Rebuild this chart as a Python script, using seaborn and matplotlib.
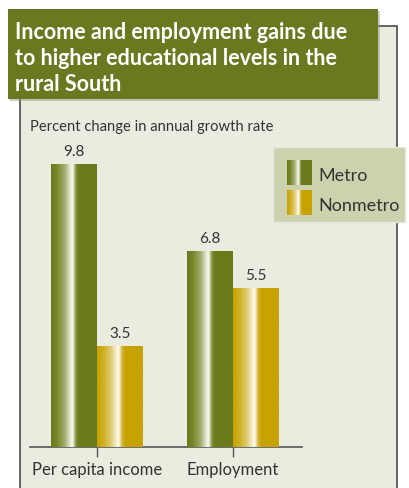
import numpy as np
import pandas as pd
import matplotlib
matplotlib.use("Agg")
import matplotlib.pyplot as plt
import seaborn as sns
from matplotlib.colors import LinearSegmentedColormap
from matplotlib.patches import Rectangle

categories = ["Per capita income", "Employment"]
metro = [9.8, 6.8]
nonmetro = [3.5, 5.5]
series = ["Metro", "Nonmetro"]
value_labels = ["9.8", "3.5", "6.8", "5.5"]
title = "Income and employment gains due\nto higher educational levels in the\nrural South"
ylabel = "Percent change in annual growth rate"

sns.set_theme(style="white")
plt.rcParams['font.family'] = ['Lato', 'DejaVu Sans']

W, H = 409, 489
fig = plt.figure(figsize=(W / 100, H / 100), dpi=100)
fig.patch.set_facecolor("white")

def fx(px):
    return px / W

def fy(py):
    return 1 - py / H

# panel
fig.patches.append(Rectangle((fx(20), fy(492)), fx(377), (492 - 27) / H,
                             transform=fig.transFigure, facecolor="#ECEBDF",
                             edgecolor="#4a4a4a", linewidth=1.2, zorder=-2))
# title shadow + box
fig.patches.append(Rectangle((fx(10), fy(102)), fx(370), 90 / H,
                             transform=fig.transFigure, facecolor="#9a9a8a",
                             edgecolor="none", alpha=0.5, zorder=2))
fig.patches.append(Rectangle((fx(8), fy(100)), fx(370), 90 / H,
                             transform=fig.transFigure, facecolor="#6B7820",
                             edgecolor="none", zorder=2))
fig.text(fx(15), fy(22), title, color="white", fontsize=15.5, fontweight="bold",
         va="top", ha="left", linespacing=1.3, zorder=3)
fig.text(fx(30), fy(127), ylabel, color="#333333", fontsize=10.6, va="center",
         ha="left", zorder=3)

df = pd.DataFrame({
    "Category": categories * 2,
    "Area": [series[0]] * len(categories) + [series[1]] * len(categories),
    "Value": metro + nonmetro,
})

ax = fig.add_axes([fx(30), fy(448), fx(272), (448 - 144.6) / H])
ax.set_zorder(1)
ax.set_facecolor("none")
pal = {"Metro": "#6A7A1A", "Nonmetro": "#C6A300"}
sns.barplot(data=df, x="Category", y="Value", hue="Area", palette=pal,
            width=0.67, ax=ax, legend=False, saturation=1)

cm_metro = LinearSegmentedColormap.from_list("m", [
    (0.0, "#6A7A1A"), (0.12, "#76852a"), (0.3, "#a3ad70"), (0.42, "#e6e8d4"),
    (0.47, "#fbfbf2"), (0.55, "#7c8a30"), (0.62, "#6A7A1A"), (1.0, "#6A7A1A")])
cm_non = LinearSegmentedColormap.from_list("n", [
    (0.0, "#C6A300"), (0.12, "#cdad1c"), (0.3, "#e0cb70"), (0.42, "#f6eed0"),
    (0.47, "#fffdf4"), (0.55, "#d2b434"), (0.62, "#C6A300"), (1.0, "#C6A300")])

grad = np.linspace(0, 1, 256).reshape(1, -1)
bars = [p for p in ax.patches if p.get_height() > 0]
for p in bars:
    x0 = p.get_x()
    w = p.get_width()
    h = p.get_height()
    fc = p.get_facecolor()
    cmap = cm_metro if fc[1] < 0.55 else cm_non
    im = ax.imshow(grad, extent=[x0, x0 + w, 0, h], aspect="auto", cmap=cmap,
                   zorder=3, interpolation="bilinear")
    im.set_clip_path(p)
    p.set_edgecolor("none")

ordered = sorted(bars, key=lambda p: p.get_x())
for p, lab in zip(ordered, value_labels):
    ax.text(p.get_x() + p.get_width() / 2, p.get_height() + 0.2, lab,
            ha="center", va="bottom", fontsize=11, color="#333333")
ax.set_xlim(-0.4926, 1.507)
ax.set_ylim(0, 10.5)

sns.despine(ax=ax, left=True, top=True, right=True)
ax.spines["bottom"].set_color("#555555")
ax.spines["bottom"].set_linewidth(1.2)
ax.set_yticks([])
ax.set_xlabel("")
ax.set_ylabel("")
ax.tick_params(axis="x", bottom=True, length=7, width=1, color="#555555",
               labelsize=12, labelcolor="#333333", pad=3)

# legend box
fig.patches.append(Rectangle((fx(273), fy(223)), fx(132), 75 / H,
                             transform=fig.transFigure, facecolor="#CDD2AE",
                             edgecolor="#e8e8dc", linewidth=1.0, zorder=4))
for i, (name, cmap) in enumerate(zip(series, [cm_metro, cm_non])):
    top = 161 + i * 30
    lax = fig.add_axes([fx(287), fy(top + 25), fx(25), 25 / H], zorder=5)
    lax.imshow(grad, aspect="auto", cmap=cmap, interpolation="bilinear")
    lax.axis("off")
    fig.text(fx(318), fy(top + 15), name, fontsize=13, color="#333333",
             va="center", ha="left", zorder=6)

fig.savefig("out.png", dpi=100)
